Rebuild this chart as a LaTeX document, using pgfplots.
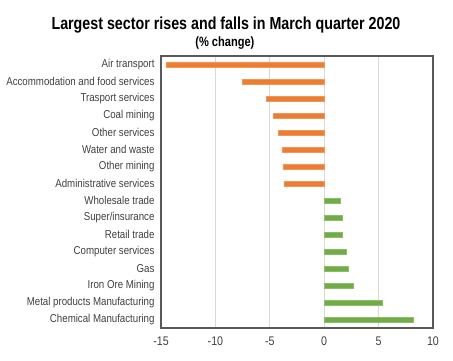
\documentclass[border=0pt]{standalone}
\usepackage{fontspec}
\setmainfont{Liberation Sans}
\newfontfamily\narrow{Liberation Sans}[FakeStretch=0.85]
\newfontfamily\narrowb{Liberation Sans Bold}[FakeStretch=0.82]
\usepackage{pgfplots}
\pgfplotsset{compat=1.18}
\definecolor{barorange}{HTML}{ED7D31}
\definecolor{bargreen}{HTML}{70AD47}
\definecolor{labgray}{HTML}{404040}
\definecolor{frame}{HTML}{595959}
\pgfplotstableread{
idx val
0 -14.5
1 -7.5
2 -5.3
3 -4.7
4 -4.2
5 -3.9
6 -3.8
7 -3.7
}\neg
\pgfplotstableread{
idx val
8 1.5
9 1.7
10 1.65
11 2.0
12 2.2
13 2.7
14 5.3
15 8.15
}\pos
\begin{document}
\begin{tikzpicture}
\useasboundingbox (-161pt,-33pt) rectangle (292pt,328pt);
\begin{axis}[
  scale only axis, width=272pt, height=272pt,
  xbar, bar shift=0pt, bar width=5pt,
  xmin=-15, xmax=10, ymin=-0.5, ymax=15.5,
  y dir=reverse,
  xtick={-15,-10,-5,0,5,10},
  xticklabels={-15,-10,-5,0,5,10},
  ytick={0,...,15},
  yticklabels={Air transport,Accommodation and food services,Trasport services,Coal mining,Other services,Water and waste,Other mining,Administrative services,Wholesale trade,Super/insurance,Retail trade,Computer services,Gas,Iron Ore Mining,Metal products Manufacturing,Chemical Manufacturing},
  major tick length=0pt,
  xmajorgrids, grid style={draw=black!15, line width=0.6pt},
  axis line style={draw=frame, line width=1.1pt},
  yticklabel style={font=\narrow\fontsize{11.4}{13}\selectfont, text=labgray, xshift=-3pt},
  xticklabel style={font=\narrow\fontsize{12.5}{14}\selectfont, text=labgray, yshift=-5pt},
  clip=false,
]
\addplot[fill=barorange, draw=barorange!80!white] table[x=val, y=idx] {\neg};
\addplot[fill=bargreen, draw=bargreen!80!white] table[x=val, y=idx] {\pos};
\node[font=\narrowb\fontsize{17.4}{19}\selectfont, anchor=center] at ([yshift=31pt]rel axis cs:0.239,1) {Largest sector rises and falls in March quarter 2020};
\node[font=\narrowb\fontsize{13.5}{15}\selectfont, anchor=center] at ([yshift=13pt]rel axis cs:0.235,1) {(\% change)};
\end{axis}
\end{tikzpicture}
\end{document}
